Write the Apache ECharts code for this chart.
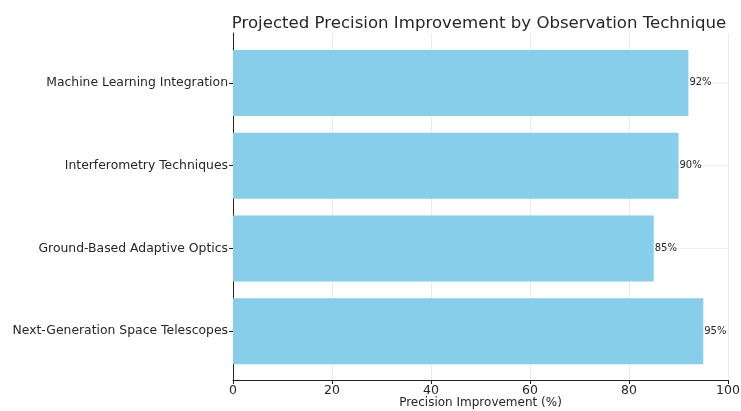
<!DOCTYPE html>
<html>
<head>
<meta charset="utf-8">
<script src="https://cdn.jsdelivr.net/npm/echarts@6/dist/echarts.min.js"></script>
<style>
  html, body { margin: 0; padding: 0; background: #fff; }
  #chart { width: 741px; height: 411px; }
</style>
</head>
<body>
<div id="chart"></div>
<script>
// Observation techniques, listed top to bottom
const techniques = [
  'Machine Learning Integration',
  'Interferometry Techniques',
  'Ground-Based Adaptive Optics',
  'Next-Generation Space Telescopes'
];
// Projected precision improvement (%) for each technique
const improvement = [92, 90, 85, 95];
// Full-width reference values used to draw horizontal guide lines
const guideValues = [100, 100, 100, 100];

const FONT = 'DejaVu Sans';
const TEXT = '#262626';

const chart = echarts.init(document.getElementById('chart'), null, { renderer: 'canvas' });

chart.setOption({
  backgroundColor: '#ffffff',
  animation: false,
  title: {
    text: 'Projected Precision Improvement by Observation Technique',
    left: 474, top: 10, textAlign: 'center',
    textStyle: { fontFamily: FONT, fontSize: 16.6, fontWeight: 'normal', color: TEXT }
  },
  grid: [
    // frame: axis spines, x ticks and vertical grid
    { left: 233, right: 13, top: 33, bottom: 31, containLabel: false, outerBoundsMode: 'none' },
    // bars and category labels
    { left: 233, right: 13, top: 41.5, bottom: 38.5, containLabel: false, outerBoundsMode: 'none' }
  ],
  xAxis: [
    {
      gridIndex: 0, type: 'value', min: 0, max: 100, interval: 20,
      axisLine: { show: true, lineStyle: { color: '#222', width: 1 } },
      axisTick: { show: true, inside: false, length: 4, lineStyle: { color: '#222' } },
      axisLabel: { fontFamily: FONT, fontSize: 12.5, color: TEXT, margin: 4 },
      splitLine: { show: true, lineStyle: { color: '#ececec', width: 1 } },
      name: 'Precision Improvement (%)',
      nameLocation: 'middle', nameGap: 17, nameMoveOverlap: false,
      nameTextStyle: { fontFamily: FONT, fontSize: 12, color: TEXT, verticalAlign: 'top' }
    },
    { gridIndex: 1, type: 'value', min: 0, max: 100, show: false }
  ],
  yAxis: [
    {
      gridIndex: 0, type: 'value', min: 0, max: 1,
      axisLine: { show: true, lineStyle: { color: '#222', width: 1 } },
      axisTick: { show: false }, axisLabel: { show: false }, splitLine: { show: false }
    },
    {
      gridIndex: 1, type: 'category', data: techniques, inverse: true,
      axisLine: { show: false },
      axisTick: { show: true, alignWithLabel: true, length: 4, lineStyle: { color: '#222' } },
      axisLabel: { fontFamily: FONT, fontSize: 12.4, color: TEXT, margin: 5 },
      splitLine: { show: false }
    },
    {
      gridIndex: 1, type: 'category', data: techniques, inverse: true, show: false
    }
  ],
  series: [
    {
      name: 'guides', type: 'bar', xAxisIndex: 1, yAxisIndex: 2,
      data: guideValues, barWidth: 1, silent: true, z: 1,
      itemStyle: { color: '#ececec' }
    },
    {
      name: 'Precision Improvement', type: 'bar', xAxisIndex: 1, yAxisIndex: 1,
      data: improvement, barWidth: 66, z: 3,
      itemStyle: { color: '#87CEEB' },
      label: {
        show: true, position: 'right', distance: 1,
        formatter: '{c}%',
        fontFamily: FONT, fontSize: 10, color: TEXT
      }
    }
  ]
});
</script>
</body>
</html>
